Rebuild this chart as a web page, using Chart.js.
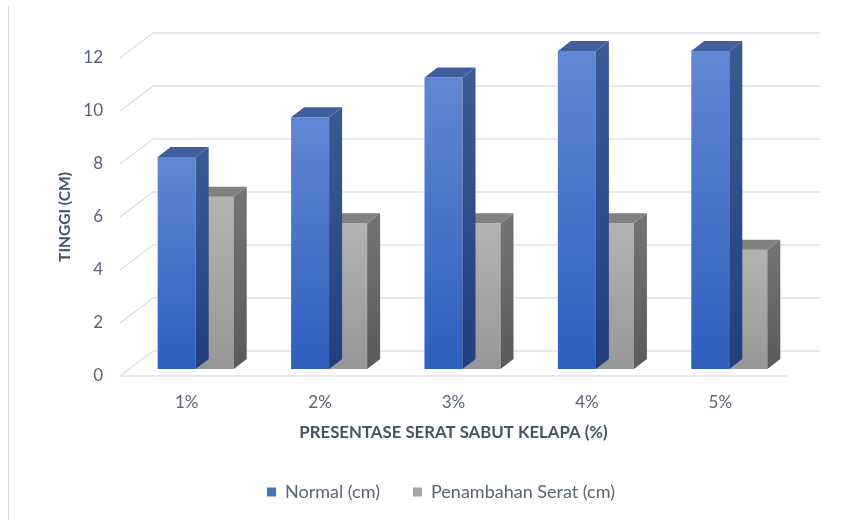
<!DOCTYPE html>
<html>
<head>
<meta charset="utf-8">
<script src="https://cdn.jsdelivr.net/npm/chart.js@4.4.1/dist/chart.umd.min.js"></script>
<style>
  html, body { margin: 0; padding: 0; background: #fff; }
  #wrap { width: 852px; height: 520px; position: relative; }
</style>
</head>
<body>
<div id="wrap"><canvas id="chart"></canvas></div>
<script>
// Data
const categories = ['1%', '2%', '3%', '4%', '5%']
const normalCm = [8, 9.5, 11, 12, 12]
const seratCm = [6.5, 5.5, 5.5, 5.5, 4.5]
const yTickValues = [0, 2, 4, 6, 8, 10, 12]

// Geometri 3D (pseudo)
const WALL_DX = 33, WALL_DY = -25   // dinding belakang
const BAR_DX = 9, BAR_DY = -7       // posisi batang dalam kedalaman
const DEPTH_DX = 13, DEPTH_DY = -10 // tebal batang

const GRID_COLOR = '#dde1e8'
const TEXT_COLOR = '#596576'
const TITLE_COLOR = '#44546a'

const faces = [
  { front: ['#6088d4', '#2d5fbc'], side: ['#3b5a94', '#213f80'], top: '#415f9c' },
  { front: ['#b3b3b3', '#979797'], side: ['#737373', '#5a5a5a'], top: '#808080' }
]

function frontGradient(idx) {
  return (ctx) => {
    const chart = ctx.chart
    const y = chart.scales.y
    if (!y || ctx.raw === undefined) return faces[idx].front[0]
    const top = y.getPixelForValue(ctx.raw)
    const base = y.getPixelForValue(0)
    const g = chart.ctx.createLinearGradient(0, top, 0, base)
    g.addColorStop(0, faces[idx].front[0])
    g.addColorStop(1, faces[idx].front[1])
    return g
  }
}

const threeD = {
  id: 'threeD',
  beforeDraw(chart) {
    const ctx = chart.ctx
    ctx.save()
    ctx.strokeStyle = '#d9d9d9'
    ctx.lineWidth = 1
    ctx.beginPath()
    ctx.moveTo(8.5, 6)
    ctx.lineTo(8.5, 520)
    ctx.stroke()
    ctx.restore()
  },
  beforeDatasetsDraw(chart) {
    const ctx = chart.ctx
    const { left, right, bottom } = chart.chartArea
    const ys = chart.scales.y
    ctx.save()
    ctx.strokeStyle = GRID_COLOR
    ctx.lineWidth = 1.5
    yTickValues.forEach(v => {
      const y = ys.getPixelForValue(v)
      ctx.beginPath()
      ctx.moveTo(left, y)
      ctx.lineTo(left + WALL_DX, y + WALL_DY)
      ctx.lineTo(right + WALL_DX, y + WALL_DY)
      ctx.stroke()
    })
    ctx.beginPath()
    ctx.moveTo(left, bottom)
    ctx.lineTo(right, bottom)
    ctx.stroke()
    ctx.restore()

    // geser batang ke kedalaman tengah
    ctx.save()
    ctx.translate(BAR_DX, BAR_DY)
  },
  afterDatasetDraw(chart, args) {
    const ctx = chart.ctx
    const f = faces[args.index]
    args.meta.data.forEach(bar => {
      const { x, y, base, width } = bar.getProps(['x', 'y', 'base', 'width'], true)
      const l = x - width / 2, r = x + width / 2
      // sisi kanan
      const gs = ctx.createLinearGradient(0, y, 0, base)
      gs.addColorStop(0, f.side[0])
      gs.addColorStop(1, f.side[1])
      ctx.fillStyle = gs
      ctx.beginPath()
      ctx.moveTo(r, y)
      ctx.lineTo(r + DEPTH_DX, y + DEPTH_DY)
      ctx.lineTo(r + DEPTH_DX, base + DEPTH_DY)
      ctx.lineTo(r, base)
      ctx.closePath()
      ctx.fill()
      // atas
      ctx.fillStyle = f.top
      ctx.beginPath()
      ctx.moveTo(l, y)
      ctx.lineTo(r, y)
      ctx.lineTo(r + DEPTH_DX, y + DEPTH_DY)
      ctx.lineTo(l + DEPTH_DX, y + DEPTH_DY)
      ctx.closePath()
      ctx.fill()
    })
  },
  afterDatasetsDraw(chart) {
    chart.ctx.restore()
  }
}

new Chart(document.getElementById('chart'), {
  type: 'bar',
  data: {
    labels: categories,
    datasets: [
      {
        label: 'Normal (cm)',
        data: normalCm,
        backgroundColor: frontGradient(0),
        clip: false
      },
      {
        label: 'Penambahan Serat (cm)',
        data: seratCm,
        backgroundColor: frontGradient(1),
        clip: false
      }
    ]
  },
  plugins: [threeD],
  options: {
    responsive: true,
    maintainAspectRatio: false,
    animation: false,
    datasets: {
      bar: { barPercentage: 1, categoryPercentage: 0.57, borderWidth: 0 }
    },
    layout: { padding: { left: 30, right: 0, top: 58, bottom: 9 } },
    plugins: {
      legend: {
        position: 'bottom',
        labels: {
          boxWidth: 9,
          boxHeight: 9,
          padding: 33,
          color: TEXT_COLOR,
          font: { family: 'Lato', size: 18 },
          generateLabels(chart) {
            return chart.data.datasets.map((ds, i) => ({
              text: ds.label,
              fillStyle: i === 0 ? '#4472c4' : '#a5a5a5',
              strokeStyle: 'transparent',
              lineWidth: 0,
              fontColor: TEXT_COLOR,
              datasetIndex: i
            }))
          }
        }
      },
      tooltip: { enabled: false }
    },
    scales: {
      x: {
        grid: { display: false, drawTicks: false },
        border: { display: false },
        ticks: { color: TEXT_COLOR, font: { family: 'Lato', size: 17 }, padding: 16 },
        title: {
          display: true,
          text: 'PRESENTASE SERAT SABUT KELAPA (%)',
          color: TITLE_COLOR,
          font: { family: 'Lato', size: 16.8, weight: 'bold' },
          padding: { top: 0, bottom: 7 }
        },
        afterFit(s) { s.height = 74 }
      },
      y: {
        min: 0,
        max: 12,
        ticks: { stepSize: 2, color: TEXT_COLOR, font: { family: 'Lato', size: 17 }, padding: 17 },
        grid: { display: false, drawTicks: false },
        border: { display: false },
        title: {
          display: true,
          text: 'TINGGI (CM)',
          color: TITLE_COLOR,
          font: { family: 'Lato', size: 15.5, weight: 'bold' },
          padding: { top: 26, bottom: 0 }
        },
        afterFit(s) { s.width = 90 }
      },
      y2: {
        type: 'linear',
        position: 'right',
        display: true,
        ticks: { display: false },
        grid: { display: false, drawTicks: false },
        border: { display: false },
        afterFit(s) { s.width = 65 }
      }
    }
  }
})
</script>
</body>
</html>
